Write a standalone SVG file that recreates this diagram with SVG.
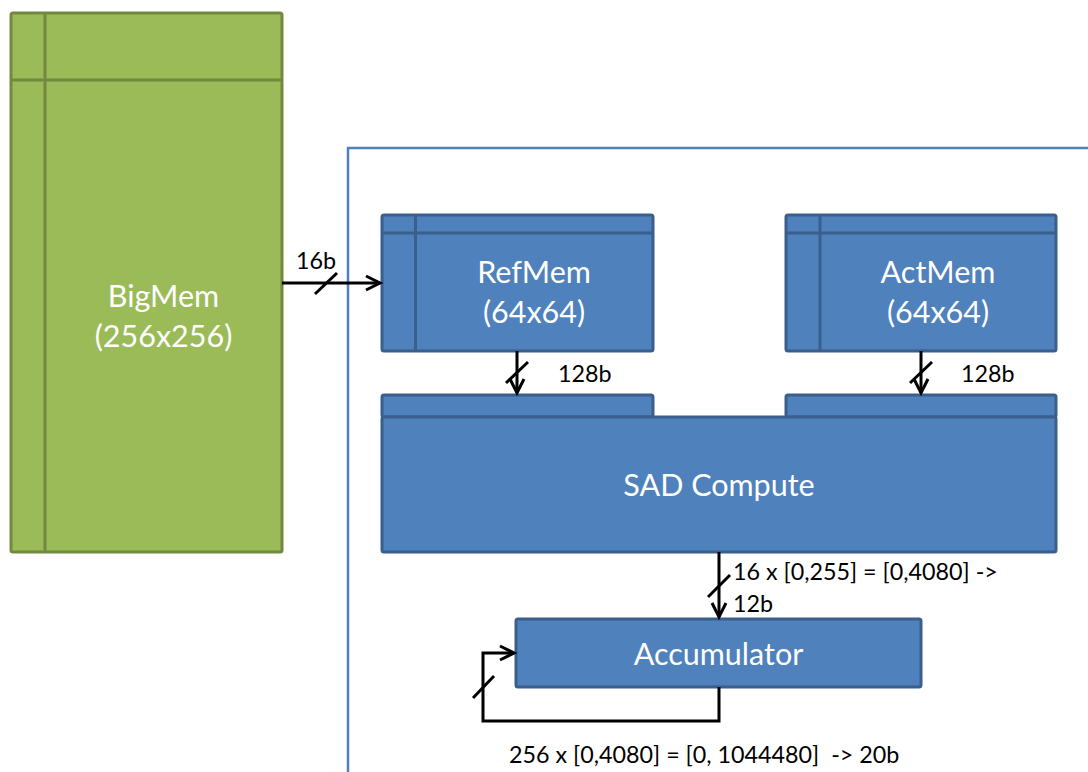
<svg xmlns="http://www.w3.org/2000/svg" width="1088" height="772" viewBox="0 0 1088 772">
  <style>
    .green { fill: #9bbb59; stroke: #71893f; stroke-width: 3; }
    .gline { fill: none; stroke: #71893f; stroke-width: 3; }
    .blue { fill: #4f81bd; stroke: #3b5f8c; stroke-width: 3; }
    .bline { fill: none; stroke: #3b5f8c; stroke-width: 3; }
    .frame { fill: none; stroke: #4f81bd; stroke-width: 2.5; }
    .ntext { font-family: Lato, "Liberation Sans", sans-serif; font-size: 30.5px; fill: #ffffff; text-anchor: middle; }
    .ltext { font-family: Lato, "Liberation Sans", sans-serif; font-size: 23.3px; fill: #000000; }
    .wire { fill: none; stroke: #000000; stroke-width: 3; }
    .tick { fill: none; stroke: #000000; stroke-width: 3; }
  </style>
  <defs>
    <marker id="arrow" markerUnits="userSpaceOnUse" markerWidth="20" markerHeight="20" viewBox="-16 -10 20 20" refX="0" refY="0" orient="auto">
      <path d="M-14,-7 L0,0 L-14,7" fill="none" stroke="#000000" stroke-width="3"/>
    </marker>
  </defs>

  <!-- outer block boundary -->
  <g id="frame">
    <path class="frame" d="M348,772 V148 H1088"/>
  </g>

  <!-- large memory -->
  <g id="bigmem">
    <rect class="green" x="11" y="13" width="271" height="539" rx="2"/>
    <line class="gline" x1="45" y1="13" x2="45" y2="552"/>
    <line class="gline" x1="11" y1="80" x2="282" y2="80"/>
    <text class="ntext" x="163.5" y="307">BigMem</text>
    <text class="ntext" x="163.5" y="347">(256x256)</text>
  </g>

  <!-- reference memory -->
  <g id="refmem">
    <rect class="blue" x="382" y="215" width="271" height="136" rx="2"/>
    <line class="bline" x1="415.5" y1="215" x2="415.5" y2="351"/>
    <line class="bline" x1="382" y1="233" x2="653" y2="233"/>
    <text class="ntext" x="534" y="283">RefMem</text>
    <text class="ntext" x="534" y="323">(64x64)</text>
  </g>

  <!-- actual memory -->
  <g id="actmem">
    <rect class="blue" x="786" y="215" width="270" height="136" rx="2"/>
    <line class="bline" x1="820" y1="215" x2="820" y2="351"/>
    <line class="bline" x1="786" y1="233" x2="1056" y2="233"/>
    <text class="ntext" x="938" y="283">ActMem</text>
    <text class="ntext" x="938" y="323">(64x64)</text>
  </g>

  <!-- SAD compute with two input ports -->
  <g id="sad">
    <rect class="blue" x="382" y="395" width="271" height="22" rx="2"/>
    <rect class="blue" x="786" y="395" width="270" height="22" rx="2"/>
    <rect class="blue" x="382" y="417" width="674" height="135" rx="2"/>
    <text class="ntext" x="719" y="496">SAD Compute</text>
  </g>

  <!-- accumulator -->
  <g id="accumulator">
    <rect class="blue" x="516" y="619" width="405" height="68" rx="2"/>
    <text class="ntext" x="718.5" y="665">Accumulator</text>
  </g>

  <!-- connectors, bus-width ticks and labels -->
  <g id="connectors">
    <line class="wire" x1="282" y1="283" x2="380" y2="283" marker-end="url(#arrow)"/>
    <line class="tick" x1="315" y1="294" x2="337" y2="273"/>
    <text class="ltext" x="296" y="269">16b</text>

    <line class="wire" x1="517" y1="351" x2="517" y2="393" marker-end="url(#arrow)"/>
    <line class="tick" x1="506" y1="383" x2="528" y2="362"/>
    <text class="ltext" x="558" y="382">128b</text>

    <line class="wire" x1="921" y1="351" x2="921" y2="393" marker-end="url(#arrow)"/>
    <line class="tick" x1="910" y1="383" x2="932" y2="362"/>
    <text class="ltext" x="961" y="382">128b</text>

    <line class="wire" x1="719" y1="552" x2="719" y2="617" marker-end="url(#arrow)"/>
    <line class="tick" x1="708" y1="597" x2="730" y2="575"/>
    <text class="ltext" x="733" y="580">16 x [0,255] = [0,4080] -&gt;</text>
    <text class="ltext" x="733" y="612">12b</text>

    <path class="wire" d="M719,687 V721 H483 V653 H514" marker-end="url(#arrow)"/>
    <line class="tick" x1="473" y1="698" x2="494" y2="676"/>
    <text class="ltext" x="509" y="763" xml:space="preserve">256 x [0,4080] = [0, 1044480]  -&gt; 20b</text>
  </g>
</svg>
